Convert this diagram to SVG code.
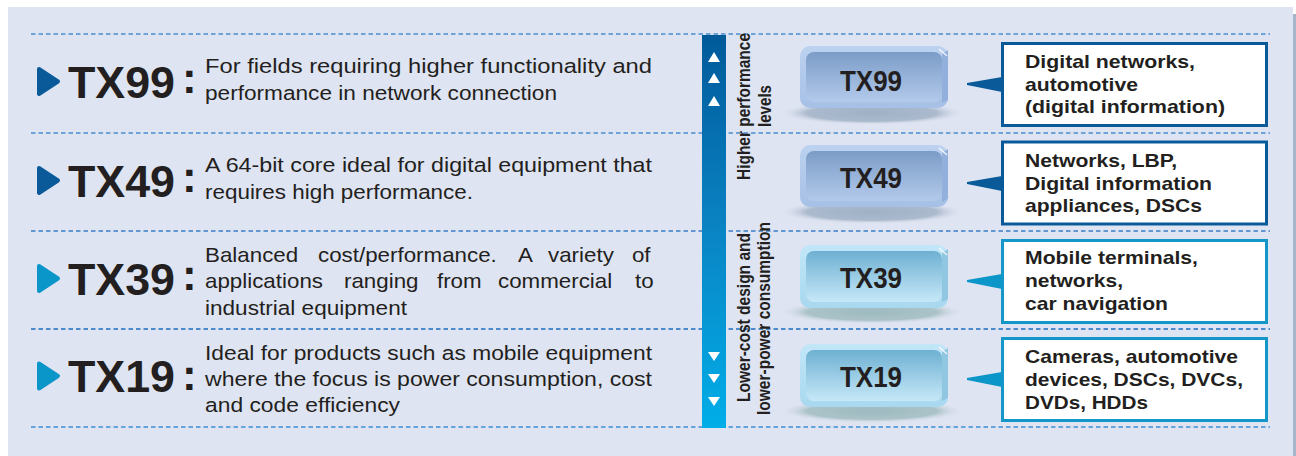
<svg xmlns="http://www.w3.org/2000/svg" width="1296" height="456" viewBox="0 0 1296 456">
<defs>
<style>
.bg{fill:#dfe4f2}
.dash{stroke:#4a8ccf;stroke-width:1.6;stroke-dasharray:4.5 3;fill:none}
.big{font-family:"Liberation Sans",Arial,sans-serif;font-weight:bold;font-size:45px;fill:#231f20}
.colon{font-family:"Liberation Sans",Arial,sans-serif;font-weight:bold;font-size:44px;fill:#231f20}
.desc{font-family:"Liberation Sans",Arial,sans-serif;font-size:20.5px;fill:#231f20}
.chip{font-family:"Liberation Sans",Arial,sans-serif;font-weight:bold;font-size:29px;fill:#231f20;text-anchor:middle}
.call{font-family:"Liberation Sans",Arial,sans-serif;font-weight:bold;font-size:18.5px;fill:#231f20}
.rot{font-family:"Liberation Sans",Arial,sans-serif;font-weight:bold;font-size:18px;fill:#231f20;text-anchor:middle}
.dk{fill:#0a5a9a}
.cy{fill:#0a96c8}
.boxdk{fill:#fff;stroke:#0a5a9a;stroke-width:3}
.boxcy{fill:#fff;stroke:#1496c8;stroke-width:3}
.tri{fill:#fff}
</style>
<linearGradient id="bar" x1="0" y1="0" x2="0" y2="1">
<stop offset="0" stop-color="#005a9a"/>
<stop offset="0.5" stop-color="#0a84c4"/>
<stop offset="1" stop-color="#00aee8"/>
</linearGradient>
<linearGradient id="faceA" x1="0" y1="0" x2="0" y2="1">
<stop offset="0" stop-color="#7b9cc7"/>
<stop offset="1" stop-color="#b3caeb"/>
</linearGradient>
<linearGradient id="rimA" x1="0" y1="0" x2="0" y2="1">
<stop offset="0" stop-color="#bcd2f0"/>
<stop offset="1" stop-color="#a6c0e6"/>
</linearGradient>
<linearGradient id="faceB" x1="0" y1="0" x2="0" y2="1">
<stop offset="0" stop-color="#6eb0d2"/>
<stop offset="1" stop-color="#c6e8f8"/>
</linearGradient>
<linearGradient id="rimB" x1="0" y1="0" x2="0" y2="1">
<stop offset="0" stop-color="#c2e6f8"/>
<stop offset="1" stop-color="#a8d8ef"/>
</linearGradient>
<radialGradient id="shA" cx="0.5" cy="0.5" r="0.5">
<stop offset="0" stop-color="#9fb0c6"/>
<stop offset="0.7" stop-color="#abbacd"/>
<stop offset="1" stop-color="#dfe4f2" stop-opacity="0"/>
</radialGradient>
<radialGradient id="shB" cx="0.5" cy="0.5" r="0.5">
<stop offset="0" stop-color="#9dbac0"/>
<stop offset="0.7" stop-color="#abc3c8"/>
<stop offset="1" stop-color="#dfe4f2" stop-opacity="0"/>
</radialGradient>
</defs>

<rect x="1292" y="14" width="4" height="442" fill="#a8b4c8"/>
<rect class="bg" x="8" y="7" width="1285" height="449"/>

<g id="connectors">
<line class="dash" x1="31" y1="34" x2="1270" y2="34"/>
<line class="dash" x1="31" y1="133" x2="1270" y2="133"/>
<line class="dash" x1="31" y1="231" x2="1270" y2="231" style="stroke:#3a7ec8"/>
<line class="dash" x1="31" y1="329" x2="1270" y2="329" style="stroke:#1c6ec2"/>
<line class="dash" x1="31" y1="427" x2="1270" y2="427" style="stroke:#3f8fd2"/>
<polygon class="dk" points="967,83 967,85 1002,92 1002,77"/>
<polygon class="dk" points="967,182 967,184 1002,191 1002,176"/>
<polygon class="cy" points="967,280 967,282 1002,289 1002,274"/>
<polygon class="cy" points="967,378 967,380 1002,387 1002,372"/>
</g>

<g id="scale-bar">
<rect x="702" y="35" width="24" height="393" fill="url(#bar)"/>
<polygon class="tri" points="714,52 720,62 708,62"/>
<polygon class="tri" points="714,73 720,83 708,83"/>
<polygon class="tri" points="714,96 720,106 708,106"/>
<polygon class="tri" points="708,352 720,352 714,361"/>
<polygon class="tri" points="708,374 720,374 714,383"/>
<polygon class="tri" points="708,397 720,397 714,406"/>
<text class="rot" transform="translate(750,106.5) rotate(-90)" textLength="147" lengthAdjust="spacingAndGlyphs">Higher performance</text>
<text class="rot" transform="translate(771,106) rotate(-90)" textLength="42" lengthAdjust="spacingAndGlyphs">levels</text>
<text class="rot" transform="translate(750,317.5) rotate(-90)" textLength="169" lengthAdjust="spacingAndGlyphs">Lower-cost design and</text>
<text class="rot" transform="translate(770,318.5) rotate(-90)" textLength="193" lengthAdjust="spacingAndGlyphs">lower-power consumption</text>
</g>

<g id="row-tx99">
<polygon class="dk" points="39,69 58,81.5 39,94" stroke="#0a5a9a" stroke-width="4" stroke-linejoin="round"/>
<text class="big" x="68" y="98" textLength="107" lengthAdjust="spacingAndGlyphs">TX99</text>
<text class="colon" x="182" y="93">:</text>
<text class="desc" x="205" y="73" textLength="447" lengthAdjust="spacingAndGlyphs">For fields requiring higher functionality and</text>
<text class="desc" x="205" y="99.5" textLength="352" lengthAdjust="spacingAndGlyphs">performance in network connection</text>
</g>
<g id="row-tx49">
<polygon class="dk" points="39,168 58,180.5 39,193" stroke="#0a5a9a" stroke-width="4" stroke-linejoin="round"/>
<text class="big" x="68" y="196.5" textLength="107" lengthAdjust="spacingAndGlyphs">TX49</text>
<text class="colon" x="182" y="192">:</text>
<text class="desc" x="205" y="172" textLength="447" lengthAdjust="spacingAndGlyphs">A 64-bit core ideal for digital equipment that</text>
<text class="desc" x="205" y="198.5" textLength="268" lengthAdjust="spacingAndGlyphs">requires high performance.</text>
</g>
<g id="row-tx39">
<polygon class="cy" points="39,266 58,278.5 39,291" stroke="#0a96c8" stroke-width="4" stroke-linejoin="round"/>
<text class="big" x="68" y="295" textLength="107" lengthAdjust="spacingAndGlyphs">TX39</text>
<text class="colon" x="182" y="290">:</text>
<g transform="translate(205,0) scale(1.09,1)">
<text class="desc" y="262"><tspan x="0">Balanced</tspan> <tspan x="103.7">cost/performance.</tspan> <tspan x="287.2">A</tspan> <tspan x="314.7">variety</tspan> <tspan x="391.7">of</tspan></text>
<text class="desc" y="288.5"><tspan x="0">applications</tspan> <tspan x="127.5">ranging</tspan> <tspan x="212.8">from</tspan> <tspan x="268.8">commercial</tspan> <tspan x="394.5">to</tspan></text>
</g>
<text class="desc" x="205" y="315" textLength="202" lengthAdjust="spacingAndGlyphs">industrial equipment</text>
</g>
<g id="row-tx19">
<polygon class="cy" points="39,363.5 58,376 39,388.5" stroke="#0a96c8" stroke-width="4" stroke-linejoin="round"/>
<text class="big" x="68" y="392" textLength="107" lengthAdjust="spacingAndGlyphs">TX19</text>
<text class="colon" x="182" y="390">:</text>
<text class="desc" x="205" y="360" textLength="447" lengthAdjust="spacingAndGlyphs">Ideal for products such as mobile equipment</text>
<text class="desc" x="205" y="386" textLength="447" lengthAdjust="spacingAndGlyphs">where the focus is power consumption, cost</text>
<text class="desc" x="205" y="412" textLength="195" lengthAdjust="spacingAndGlyphs">and code efficiency</text>
</g>

<g id="chip-tx99">
<ellipse cx="872" cy="113" rx="93" ry="12" fill="url(#shA)"/>
<rect x="800" y="46" width="148" height="62" rx="10" fill="url(#rimA)"/>
<path d="M942,54 L948,50 L948,100 L942,103 Z" fill="#93b0dc"/>
<rect x="806" y="52" width="136" height="50" rx="8" fill="url(#faceA)"/>
<line x1="939" y1="49" x2="947" y2="56" stroke="#fff" stroke-width="1.5" opacity="0.8"/>
<text class="chip" x="871" y="91" textLength="62" lengthAdjust="spacingAndGlyphs">TX99</text>
</g>
<g id="chip-tx49">
<ellipse cx="872" cy="212" rx="93" ry="12" fill="url(#shA)"/>
<rect x="800" y="145" width="148" height="62" rx="10" fill="url(#rimA)"/>
<path d="M942,153 L948,149 L948,199 L942,202 Z" fill="#93b0dc"/>
<rect x="806" y="151" width="136" height="50" rx="8" fill="url(#faceA)"/>
<line x1="939" y1="148" x2="947" y2="155" stroke="#fff" stroke-width="1.5" opacity="0.8"/>
<text class="chip" x="871" y="188" textLength="62" lengthAdjust="spacingAndGlyphs">TX49</text>
</g>
<g id="chip-tx39">
<ellipse cx="872" cy="312" rx="93" ry="12" fill="url(#shB)"/>
<rect x="800" y="245" width="148" height="63" rx="10" fill="url(#rimB)"/>
<path d="M942,253 L948,249 L948,299 L942,302 Z" fill="#8fc6e0"/>
<rect x="806" y="251" width="136" height="51" rx="8" fill="url(#faceB)"/>
<line x1="939" y1="248" x2="947" y2="255" stroke="#fff" stroke-width="1.5" opacity="0.8"/>
<text class="chip" x="871" y="288" textLength="62" lengthAdjust="spacingAndGlyphs">TX39</text>
</g>
<g id="chip-tx19">
<ellipse cx="872" cy="411" rx="93" ry="12" fill="url(#shB)"/>
<rect x="800" y="344" width="148" height="63" rx="10" fill="url(#rimB)"/>
<path d="M942,352 L948,348 L948,398 L942,401 Z" fill="#8fc6e0"/>
<rect x="806" y="350" width="136" height="51" rx="8" fill="url(#faceB)"/>
<line x1="939" y1="347" x2="947" y2="354" stroke="#fff" stroke-width="1.5" opacity="0.8"/>
<text class="chip" x="871" y="387" textLength="62" lengthAdjust="spacingAndGlyphs">TX19</text>
</g>

<g id="apps-tx99">
<rect class="boxdk" x="1002.5" y="43.5" width="264" height="82"/>
<text class="call" x="1025" y="68" textLength="170" lengthAdjust="spacingAndGlyphs">Digital networks,</text>
<text class="call" x="1025" y="90.5" textLength="113" lengthAdjust="spacingAndGlyphs">automotive</text>
<text class="call" x="1025" y="113" textLength="200" lengthAdjust="spacingAndGlyphs">(digital information)</text>
</g>
<g id="apps-tx49">
<rect class="boxdk" x="1002.5" y="142" width="264" height="82"/>
<text class="call" x="1025" y="167" textLength="152" lengthAdjust="spacingAndGlyphs">Networks, LBP,</text>
<text class="call" x="1025" y="189.5" textLength="187" lengthAdjust="spacingAndGlyphs">Digital information</text>
<text class="call" x="1025" y="212" textLength="177" lengthAdjust="spacingAndGlyphs">appliances, DSCs</text>
</g>
<g id="apps-tx39">
<rect class="boxcy" x="1002.5" y="240.5" width="264" height="82"/>
<text class="call" x="1025" y="264" textLength="173" lengthAdjust="spacingAndGlyphs">Mobile terminals,</text>
<text class="call" x="1025" y="287" textLength="98" lengthAdjust="spacingAndGlyphs">networks,</text>
<text class="call" x="1025" y="310" textLength="143" lengthAdjust="spacingAndGlyphs">car navigation</text>
</g>
<g id="apps-tx19">
<rect class="boxcy" x="1002.5" y="338.5" width="264" height="82"/>
<text class="call" x="1025" y="363" textLength="213" lengthAdjust="spacingAndGlyphs">Cameras, automotive</text>
<text class="call" x="1025" y="386" textLength="218" lengthAdjust="spacingAndGlyphs">devices, DSCs, DVCs,</text>
<text class="call" x="1025" y="408.5" textLength="123" lengthAdjust="spacingAndGlyphs">DVDs, HDDs</text>
</g>
</svg>
